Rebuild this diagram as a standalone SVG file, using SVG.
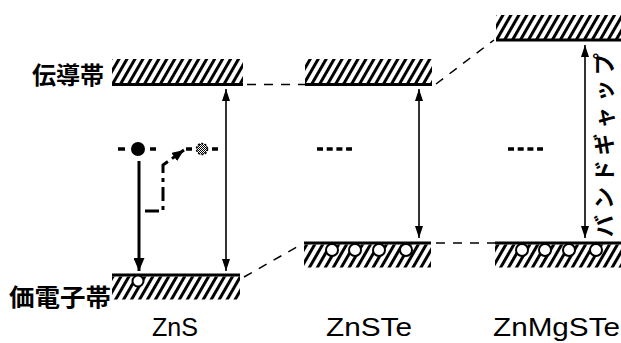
<svg xmlns="http://www.w3.org/2000/svg" width="621" height="343" viewBox="0 0 621 343">
<defs>
<pattern id="hatch" patternUnits="userSpaceOnUse" width="6.9" height="6.9" patternTransform="rotate(30)">
<rect width="6.9" height="6.9" fill="#fff"/>
<rect x="0" y="0" width="3" height="6.9" fill="#000"/>
</pattern>
<pattern id="dots" patternUnits="userSpaceOnUse" width="2" height="2">
<rect width="2" height="2" fill="#fff"/>
<rect width="1" height="1" fill="#000"/>
<rect x="1" y="1" width="1" height="1" fill="#000"/>
</pattern>
<marker id="ah" viewBox="0 0 12 8" refX="12" refY="4" markerWidth="12" markerHeight="8" markerUnits="userSpaceOnUse" orient="auto-start-reverse">
<path d="M0,0 L12,4 L0,8 z" fill="#000"/>
</marker>
<marker id="ahBig" viewBox="0 0 13 11" refX="13" refY="5.5" markerWidth="13" markerHeight="11" markerUnits="userSpaceOnUse" orient="auto">
<path d="M0,0 L13,5.5 L0,11 z" fill="#000"/>
</marker>
<marker id="ahMid" viewBox="0 0 12 10" refX="12" refY="5" markerWidth="12" markerHeight="10" markerUnits="userSpaceOnUse" orient="auto">
<path d="M0,0 L12,5 L0,10 z" fill="#000"/>
</marker>
</defs>
<style>
.hatch{fill:url(#hatch);}
.edge{stroke:#000;stroke-width:3;}
.hole{fill:#fff;stroke:#000;stroke-width:2;}
.gap{stroke:#000;stroke-width:1.6;fill:none;marker-start:url(#ah);marker-end:url(#ah);}
.link{stroke:#000;stroke-width:1.5;stroke-dasharray:9 8;fill:none;}
.lvl{stroke:#000;stroke-width:3.5;stroke-dasharray:6 3.7;fill:none;}
.jp{font-family:"Noto Sans CJK JP","Noto Sans CJK SC",sans-serif;font-weight:bold;fill:#000;}
.mat{font-family:"Liberation Sans",Arial,sans-serif;font-size:26px;fill:#000;}
</style>
<rect width="621" height="343" fill="#fff"/>

<g id="zns-cb">
<rect class="hatch" x="112" y="59" width="131" height="24"/>
<line class="edge" x1="112" y1="84.5" x2="243" y2="84.5"/>
</g>
<g id="zns-vb">
<rect class="hatch" x="112" y="276.5" width="128" height="23"/>
<line class="edge" x1="112" y1="275" x2="240" y2="275"/>
<circle class="hole" cx="138" cy="281" r="5.5"/>
</g>
<g id="znste-cb">
<rect class="hatch" x="305" y="59" width="127" height="24"/>
<line class="edge" x1="305" y1="84.5" x2="432" y2="84.5"/>
</g>
<g id="znste-vb">
<rect class="hatch" x="304" y="244.5" width="127" height="23"/>
<line class="edge" x1="304" y1="243" x2="431" y2="243"/>
<circle class="hole" cx="332" cy="250" r="6"/>
<circle class="hole" cx="355" cy="250" r="6"/>
<circle class="hole" cx="379" cy="250" r="6"/>
<circle class="hole" cx="406" cy="250" r="6"/>
</g>
<g id="znmgste-cb">
<rect class="hatch" x="496" y="15" width="125" height="24"/>
<line class="edge" x1="496" y1="40" x2="621" y2="40"/>
</g>
<g id="znmgste-vb">
<rect class="hatch" x="495" y="244.5" width="126" height="23"/>
<line class="edge" x1="495" y1="243" x2="621" y2="243"/>
<circle class="hole" cx="522" cy="250" r="6"/>
<circle class="hole" cx="545" cy="250" r="6"/>
<circle class="hole" cx="569" cy="250" r="6"/>
<circle class="hole" cx="596" cy="250" r="6"/>
</g>

<g id="zns-level">
<line x1="118" y1="149" x2="125" y2="149" stroke="#000" stroke-width="3.5"/>
<line x1="150" y1="149" x2="156" y2="149" stroke="#000" stroke-width="3.5"/>
<circle cx="138" cy="149" r="7" fill="#000"/>
<line x1="186" y1="149" x2="192" y2="149" stroke="#000" stroke-width="3.5"/>
<circle cx="202" cy="149" r="5.5" fill="url(#dots)" stroke="#000" stroke-width="1.5" stroke-dasharray="2 1.5"/>
<line x1="212" y1="149" x2="218" y2="149" stroke="#000" stroke-width="3.5"/>
</g>
<g id="znste-level">
<line class="lvl" x1="317" y1="149" x2="352" y2="149"/>
</g>
<g id="znmgste-level">
<line class="lvl" x1="508" y1="149" x2="543" y2="149"/>
</g>

<g id="connectors">
<line class="link" x1="247" y1="84.5" x2="305" y2="84.5"/>
<path class="link" d="M436,84 L494,40"/>
<path class="link" d="M244,277 L302,244"/>
<line class="link" x1="436" y1="243" x2="495" y2="243"/>
<line class="gap" x1="226" y1="89" x2="226" y2="271"/>
<line class="gap" x1="419" y1="89" x2="419" y2="238"/>
<line class="gap" x1="585" y1="45" x2="585" y2="238"/>
<line x1="139" y1="161" x2="139" y2="271" stroke="#000" stroke-width="3" marker-end="url(#ahBig)"/>
<path d="M145,211 H163 V165 L184,150" fill="none" stroke="#000" stroke-width="3" stroke-dasharray="14 5 4 5" marker-end="url(#ahMid)"/>
</g>

<g id="labels">
<text class="jp" x="104" y="84" font-size="24" text-anchor="end">伝導帯</text>
<text class="jp" x="9" y="306" font-size="24" textLength="102" lengthAdjust="spacingAndGlyphs">価電子帯</text>
<text class="jp" font-size="22" transform="translate(612,237) rotate(-90)" textLength="184" lengthAdjust="spacing">バンドギャップ</text>
<text class="mat" x="152" y="336" textLength="46" lengthAdjust="spacingAndGlyphs">ZnS</text>
<text class="mat" x="326" y="336" textLength="86" lengthAdjust="spacingAndGlyphs">ZnSTe</text>
<text class="mat" x="493" y="336" textLength="127" lengthAdjust="spacingAndGlyphs">ZnMgSTe</text>
</g>
</svg>
